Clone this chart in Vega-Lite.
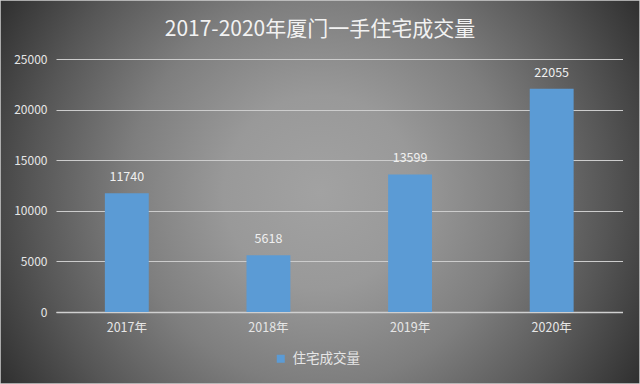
{
  "$schema": "https://vega.github.io/schema/vega-lite/v6.json",
  "width": 640,
  "height": 384,
  "autosize": {"type": "none"},
  "padding": 0,
  "background": "#5a5a5a",
  "view": {
    "fill": {
      "gradient": "radial",
      "x1": 0.5, "y1": 0.5, "r1": 0,
      "x2": 0.5, "y2": 0.5, "r2": 0.6,
      "stops": [
        {"offset": 0, "color": "#a2a2a2"},
        {"offset": 0.25, "color": "#999999"},
        {"offset": 0.5, "color": "#7e7e7e"},
        {"offset": 0.75, "color": "#565656"},
        {"offset": 1, "color": "#2a2a2a"}
      ]
    },
    "stroke": "#d0d0d0",
    "strokeWidth": 1.5
  },
  "title": {
    "text": "2017-2020年厦门一手住宅成交量",
    "font": "Noto Sans CJK SC",
    "fontSize": 21,
    "fontWeight": "normal",
    "color": "#f2f2f2",
    "anchor": "middle",
    "offset": -40
  },
  "data": {
    "values": [
      {"year": "2017年", "value": 11740, "series": "住宅成交量"},
      {"year": "2018年", "value": 5618, "series": "住宅成交量"},
      {"year": "2019年", "value": 13599, "series": "住宅成交量"},
      {"year": "2020年", "value": 22055, "series": "住宅成交量"}
    ]
  },
  "encoding": {
    "x": {
      "field": "year",
      "type": "nominal",
      "sort": null,
      "scale": {"range": [56, 622.5], "paddingInner": 0.69, "paddingOuter": 0.345},
      "axis": {
        "title": null,
        "orient": "bottom",
        "offset": -72,
        "labelAngle": 0,
        "ticks": false,
        "labelPadding": 9,
        "labelFont": "Noto Sans CJK SC",
        "labelFontSize": 12.5,
        "labelColor": "#e6e6e6",
        "domainColor": "#d0d0d0",
        "domainWidth": 1.5,
        "grid": false
      }
    },
    "y": {
      "field": "value",
      "type": "quantitative",
      "scale": {"domain": [0, 25000], "range": [312, 59], "nice": false},
      "axis": {
        "title": null,
        "orient": "left",
        "offset": -56,
        "values": [0, 5000, 10000, 15000, 20000, 25000],
        "format": "d",
        "domain": false,
        "ticks": false,
        "labelPadding": 9,
        "labelFont": "Noto Sans CJK SC",
        "labelFontSize": 12,
        "labelColor": "#e6e6e6",
        "grid": true,
        "gridColor": "#cccccc",
        "gridWidth": 1.2
      }
    }
  },
  "layer": [
    {
      "mark": {"type": "bar"},
      "encoding": {
        "color": {
          "field": "series",
          "type": "nominal",
          "scale": {"range": ["#5b9bd5"]},
          "legend": {
            "title": null,
            "orient": "none",
            "legendX": 274,
            "legendY": 352,
            "padding": 0,
            "symbolType": "square",
            "symbolSize": 64,
            "symbolStrokeWidth": 0,
            "labelOffset": 5,
            "labelFont": "Noto Sans CJK SC",
            "labelFontSize": 13.5,
            "labelColor": "#e6e6e6"
          }
        }
      }
    },
    {
      "mark": {
        "type": "text",
        "baseline": "bottom",
        "dy": -9,
        "font": "Noto Sans CJK SC",
        "fontSize": 12.5,
        "color": "#f0f0f0"
      },
      "encoding": {
        "text": {"field": "value", "type": "quantitative", "format": "d"}
      }
    }
  ]
}
